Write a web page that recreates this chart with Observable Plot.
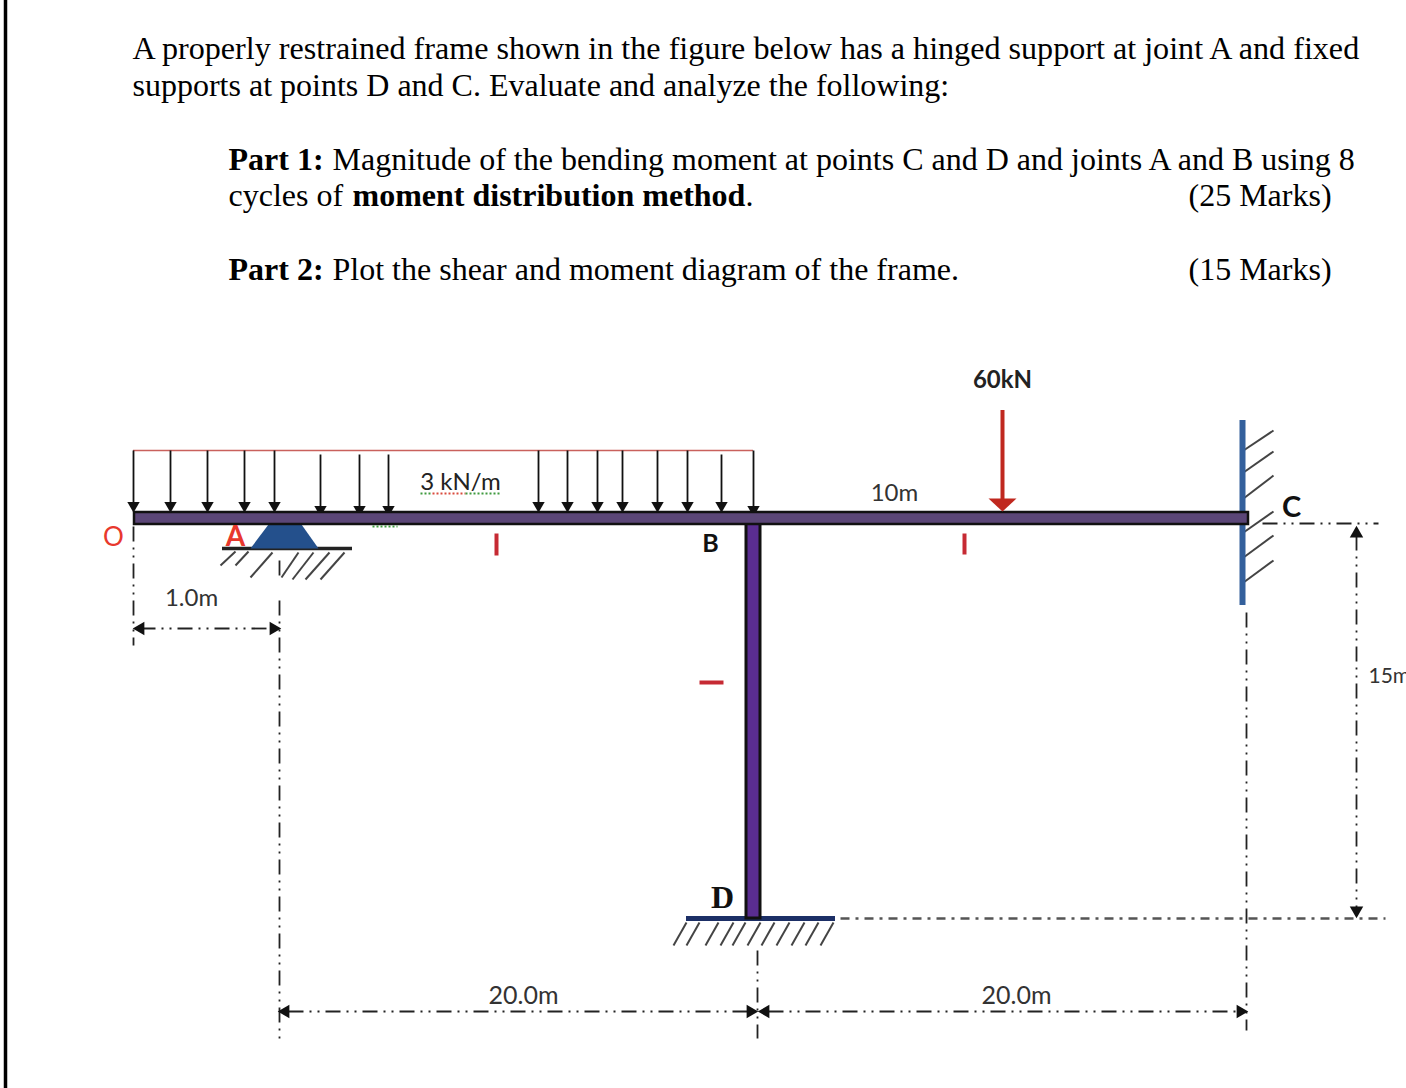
<!DOCTYPE html>
<html><head><meta charset="utf-8">
<script src="https://cdn.jsdelivr.net/npm/d3@7"></script>
<script src="https://cdn.jsdelivr.net/npm/@observablehq/plot@0.6"></script>
<style>html,body{margin:0;padding:0;background:#fff;overflow:hidden}svg{display:block}</style>
</head><body><div id="chart"></div>
<script>
const serif = "Liberation Serif";
const sans = "Lato";

const regularText = [
  {t:"A properly restrained frame shown in the figure below has a hinged support at joint A and fixed", x:132, y:48, s:32.13},
  {t:"supports at points D and C. Evaluate and analyze the following:", x:132, y:85, s:32},
  {t:"Magnitude of the bending moment at points C and D and joints A and B using 8", x:332, y:159, s:32},
  {t:"cycles of", x:228, y:195, s:32},
  {t:".", x:745, y:195, s:32},
  {t:"(25 Marks)", x:1188, y:195, s:32},
  {t:"Plot the shear and moment diagram of the frame.", x:332, y:269, s:32},
  {t:"(15 Marks)", x:1188, y:269, s:32}
];
const boldText = [
  {t:"Part 1:", x:228, y:159},
  {t:"moment distribution method", x:352, y:195},
  {t:"Part 2:", x:228, y:269}
];
const diagramLabels = [
  {t:"3 kN/m", x:460, y:482, s:24, c:"#222"},
  {t:"10m", x:894, y:493, s:24, c:"#333"},
  {t:"1.0m", x:191, y:598, s:24, c:"#333"},
  {t:"20.0m", x:523, y:995, s:25, c:"#333"},
  {t:"20.0m", x:1016, y:995, s:25, c:"#333"},
  {t:"O", x:113, y:537, s:26, c:"#e8382d"}
];
const boldLabels = [
  {t:"60kN", x:1002, y:380, s:24, c:"#222"},
  {t:"A", x:235, y:537, s:28, c:"#e8382d"},
  {t:"B", x:710, y:543, s:25, c:"#111"},
  {t:"C", x:1291, y:507, s:29, c:"#111"}
];
const dLabel = [{t:"D", x:722, y:897}];
const spanLabel = [{t:"15m", x:1368, y:676}];

// uniform load arrows: x, top, tip
const loadX   = [133,170,207,244,274,320,359,388,538,567,597,622,657,687,721,753];
const loadTop = [450,450,450,450,450,454,454,454,450,450,450,450,450,450,454,450];
const loadTip = [507,507,507,507,507,511,511,511,507,507,507,507,507,507,507,511];
const loadArrows = loadX.map((x,i)=>({x, y1:loadTop[i], y2:loadTip[i]}));

const leftHatch = [[220,565,235,551],[235,565,248,551],[250,577,272,552],[281,577,298,552],[292,579,313,552],[305,579,329,552],[320,579,344,552]];
const baseHatch = [[673,945,686,922],[686,945,699,922],[705,945,718,922],[720,945,733,922],[732,945,745,922],[747,945,760,922],[761,945,774,922],[776,945,789,922],[791,945,804,922],[805,945,818,922],[820,945,833,922]];
const wallHatch = [[1243,450,1273,430],[1243,472,1273,451],[1243,498,1273,475],[1243,532,1273,511],[1243,557,1273,535],[1243,582,1273,560]];
const hatch = [...leftHatch,...baseHatch,...wallHatch].map(([x1,y1,x2,y2])=>({x1,y1,x2,y2}));

const dimLines = [
  {x1:133,y1:526,x2:133,y2:645},
  {x1:279,y1:560,x2:279,y2:577},
  {x1:279,y1:600,x2:279,y2:1040},
  {x1:757,y1:950,x2:757,y2:1038},
  {x1:1246,y1:612,x2:1246,y2:1030},
  {x1:1356,y1:535,x2:1356,y2:912},
  {x1:140,y1:628,x2:272,y2:628},
  {x1:288,y1:1011,x2:748,y2:1011},
  {x1:768,y1:1011,x2:1236,y2:1011},
  {x1:1262,y1:523,x2:1378,y2:523}
];
const baseExtension = [{x1:840,y1:918,x2:1385,y2:918}];

const headsLeft  = [{x:140,y:628},{x:285,y:1011},{x:765,y:1011}];
const headsRight = [{x:273,y:628},{x:750,y:1011},{x:1240,y:1011}];
const headsUp    = [{x:1356,y:533}];
const headsDown  = [{x:1356,y:910}];

const supportShape = [{x:268,y:524},{x:301,y:524},{x:318,y:548},{x:250,y:548}];
const bigHead = [{x:988,y:498},{x:1016,y:498},{x:1002,y:511}];
const redTicks = [
  {x1:496,y1:533,x2:496,y2:555},
  {x1:964,y1:533,x2:964,y2:554},
  {x1:699,y1:682,x2:723,y2:682}
];
const squiggles = [
  {x1:420,x2:432,y:493,c:"#3f9a3f"},{x1:432,x2:465,y:493,c:"#d94b3d"},
  {x1:465,x2:500,y:493,c:"#3f9a3f"},{x1:372,x2:397,y:526,c:"#3f9a3f"}
];

const chart = Plot.plot({
  width:1406, height:1088,
  margin:0,
  x:{domain:[0,1406], range:[0,1406], axis:null},
  y:{domain:[0,1088], range:[0,1088], axis:null},
  style:{background:"#fff"},
  marks:[
    Plot.ruleX([5],{stroke:"#000",strokeWidth:3.5}),

    // dimension lines
    Plot.link(dimLines,{x1:"x1",y1:"y1",x2:"x2",y2:"y2",stroke:"#222",strokeWidth:1.8,strokeDasharray:"15,6,2,6,2,6"}),
    Plot.link(baseExtension,{x1:"x1",y1:"y1",x2:"x2",y2:"y2",stroke:"#555",strokeWidth:2.4,strokeDasharray:"9,6,3,6"}),
    Plot.dot(headsLeft,{x:"x",y:"y",symbol:"triangle",r:5,rotate:-90,fill:"#111"}),
    Plot.dot(headsRight,{x:"x",y:"y",symbol:"triangle",r:5,rotate:90,fill:"#111"}),
    Plot.dot(headsUp,{x:"x",y:"y",symbol:"triangle",r:5,fill:"#111"}),
    Plot.dot(headsDown,{x:"x",y:"y",symbol:"triangle",r:5,rotate:180,fill:"#111"}),

    // hatching
    Plot.link(hatch,{x1:"x1",y1:"y1",x2:"x2",y2:"y2",stroke:"#444",strokeWidth:2}),

    // distributed load
    Plot.ruleY([450],{x1:133,x2:753,stroke:"#c9615c",strokeWidth:1.6}),
    Plot.link(loadArrows,{x1:"x",y1:"y1",x2:"x",y2:"y2",stroke:"#111",strokeWidth:1.8}),
    Plot.dot(loadArrows,{x:"x",y:d=>d.y2-2,symbol:"triangle",r:4.6,rotate:180,fill:"#111"}),

    // supports
    Plot.ruleY([548],{x1:222,x2:352,stroke:"#222",strokeWidth:3.5}),
    Plot.line(supportShape,{x:"x",y:"y",fill:"#24508c",stroke:"none"}),
    Plot.ruleY([918],{x1:686,x2:835,stroke:"#1c2f66",strokeWidth:5}),
    Plot.ruleX([1242],{y1:420,y2:605,stroke:"#34609c",strokeWidth:6}),

    // frame
    Plot.rect([{x1:746,x2:760,y1:522,y2:918}],{x1:"x1",x2:"x2",y1:"y1",y2:"y2",fill:"#5a2d91",stroke:"#111",strokeWidth:3}),
    Plot.rect([{x1:134,x2:1248,y1:512,y2:524}],{x1:"x1",x2:"x2",y1:"y1",y2:"y2",fill:"#5b4677",stroke:"#111",strokeWidth:2.5}),

    // point load
    Plot.ruleX([1002],{y1:410,y2:500,stroke:"#c0281f",strokeWidth:4}),
    Plot.line(bigHead,{x:"x",y:"y",fill:"#c0281f",stroke:"none"}),

    // member property ticks
    Plot.link(redTicks,{x1:"x1",y1:"y1",x2:"x2",y2:"y2",stroke:"#c62a33",strokeWidth:4}),
    Plot.link(squiggles,{x1:"x1",x2:"x2",y1:"y",y2:"y",stroke:"c",strokeWidth:2,strokeDasharray:"2,2"}),

    // labels
    Plot.text(diagramLabels,{x:"x",y:"y",text:"t",fontFamily:sans,fontSize:"s",fill:"c"}),
    Plot.text(boldLabels,{x:"x",y:"y",text:"t",fontFamily:sans,fontSize:"s",fontWeight:700,fill:"c"}),
    Plot.text(dLabel,{x:"x",y:"y",text:"t",fontFamily:serif,fontSize:32,fontWeight:700,fill:"#111"}),
    Plot.text(spanLabel,{x:"x",y:"y",text:"t",fontFamily:sans,fontSize:21,fill:"#333",textAnchor:"start"}),

    // statement text
    Plot.text(regularText,{x:"x",y:"y",text:"t",fontFamily:serif,fontSize:"s",fill:"#000",textAnchor:"start"}),
    Plot.text(boldText,{x:"x",y:"y",text:"t",fontFamily:serif,fontSize:32,fontWeight:700,fill:"#000",textAnchor:"start"})
  ]
});
document.getElementById("chart").append(chart);
</script></body></html>
